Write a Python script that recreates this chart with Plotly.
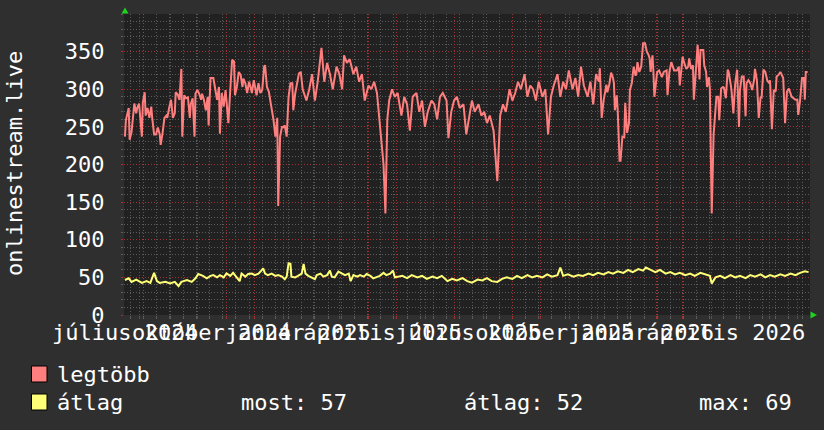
import plotly.graph_objects as go
import pandas as pd

# ---------------- data ----------------
START = "2024-07-15"
END = "2026-07-14 12:00"

# legtöbb (max) series: day offset from START, value
max_day = [1, 2, 5, 6, 8, 10, 11, 13, 14, 16, 17, 19, 20, 22, 23, 25, 27, 29, 30, 32, 34, 36, 38, 39, 41, 43, 45, 46,
           48, 50, 52, 54, 55, 57, 59, 61, 62, 64, 66, 68, 70, 71, 73, 75, 76, 78, 80, 82, 83, 85, 87, 89, 90, 92, 95,
           97, 99, 101, 102, 104, 106, 108, 109, 111, 113, 115, 117, 118, 120, 122, 124, 126, 127, 129, 131, 133, 134,
           136, 138, 140, 141, 143, 145, 147, 149, 150, 152, 154, 156, 157, 159, 161, 163, 164, 166, 168, 170, 171,
           173, 175, 177, 179, 180, 182, 184, 186, 188,
           190, 194, 197, 200, 203, 206, 210, 213, 216, 219, 222, 226, 229, 232, 234, 237, 240, 244, 247, 250, 253,
           256, 260, 263, 266, 269, 272, 276, 278, 280, 282, 285, 288, 291, 295, 298, 301, 304, 307, 311, 314, 317,
           320, 323, 327, 330, 333, 336, 339, 343, 345, 348, 351, 354, 357, 361, 364, 367, 370, 373, 377, 380, 383,
           386, 389, 393, 397, 400, 403, 406, 410, 413, 416, 419, 422, 426, 429, 432, 435, 438, 441, 445, 448, 451,
           454, 457, 461, 464, 467, 470, 473, 477, 480, 483, 486, 489, 493, 496, 499, 502, 505,
           506, 508, 510, 513, 514, 516, 518, 520, 521, 522, 524, 525, 527, 528, 530, 532, 533, 535, 537, 538, 540,
           542, 544, 545, 546, 548, 550, 551, 552, 554, 556, 558, 559, 560, 562, 563, 564, 566, 567, 569, 572, 574,
           577, 578, 580, 582, 584, 585, 588, 590, 591, 593, 594, 596, 598, 600, 601, 603, 605, 606, 608, 609, 610,
           612, 613, 615, 616, 617, 619, 620, 622, 623, 625, 627, 629, 630, 632, 633, 635, 637, 638, 640, 642, 643,
           645, 646, 648, 650, 652, 654, 655, 657, 659, 661, 662, 664, 666, 668, 670, 671, 673, 675, 677, 678, 680,
           682, 684, 686, 687, 689, 691, 693, 694, 696, 698, 700, 701, 703, 705, 707, 709, 710, 712, 714, 716, 717,
           719, 721, 723, 724, 725, 727]
max_val = [237, 259, 275, 233, 243, 277, 281, 268, 275, 281, 268, 237, 282, 296, 265, 275, 262, 277, 262, 240, 240, 249,
           240, 226, 242, 262, 265, 262, 275, 286, 262, 268, 296, 293, 286, 327, 237, 292, 288, 289, 262, 280, 288, 237,
           294, 299, 294, 286, 294, 286, 272, 290, 252, 315, 315, 297, 286, 303, 241, 295, 277, 299, 281, 255, 299, 339,
           337, 292, 303, 323, 319, 303, 314, 308, 295, 310, 306, 295, 312, 301, 292, 308, 295, 299, 330, 332, 303, 297,
           281, 277, 259, 237, 262, 145, 237, 250, 250, 252, 237, 290, 308, 308, 272, 294, 308, 321, 323,
           300, 285, 300, 320, 285, 310, 355, 310, 335, 320, 300, 330, 320, 300, 345, 335, 340, 320, 330, 310, 320,
           285, 305, 300, 310, 295, 255, 200, 135, 260, 285, 300, 290, 295, 265, 290, 280, 245, 290, 295, 270, 285,
           250, 270, 285, 280, 260, 290, 295, 285, 235, 270, 285, 290, 275, 280, 240, 265, 285, 270, 280, 265, 270,
           255, 265, 245, 178, 265, 280, 270, 300, 285, 295, 310, 300, 320, 290, 305, 300, 285, 310, 290, 300, 240,
           290, 305, 320, 290, 310, 300, 325, 300, 315, 290, 330, 305, 290, 310, 280, 320, 310,
           328, 262, 285, 306, 296, 306, 322, 315, 308, 272, 292, 272, 205, 205, 237, 236, 282, 242, 255, 299, 308,
           330, 318, 322, 336, 323, 330, 345, 361, 361, 350, 345, 341, 323, 345, 323, 290, 312, 323, 325, 316, 323,
           325, 292, 323, 336, 327, 325, 325, 330, 305, 332, 343, 334, 327, 330, 341, 327, 332, 286, 323, 330, 359,
           313, 352, 352, 352, 332, 323, 303, 316, 301, 135, 240, 279, 290, 290, 259, 301, 303, 302, 288, 326, 323,
           308, 299, 268, 308, 326, 250, 299, 317, 317, 264, 308, 312, 308, 299, 312, 327, 312, 262, 290, 288, 326,
           323, 312, 308, 312, 247, 299, 297, 317, 319, 323, 317, 315, 255, 297, 301, 292, 290, 288, 286, 286, 266,
           286, 315, 315, 286, 323, 323]

# átlag (average) series
avg_day = [1, 5, 8, 13, 19, 24, 28, 32, 35, 38, 44, 49, 54, 58, 61, 67, 72, 76, 79, 84, 88, 92, 95, 99, 102, 106,
           109, 113, 116, 120, 123, 125, 129, 132, 136, 139, 143, 146, 148, 150, 153, 157, 161, 164, 168, 171, 173,
           175, 177, 178, 182, 185, 189, 191, 193, 196, 200, 203, 205, 209, 212, 216, 219, 221, 224, 228, 232, 235,
           239, 241, 244, 248, 251, 255, 258, 262, 265, 269, 272, 276, 279, 283, 286, 288, 292,
           296, 301, 306, 312, 317, 322, 328, 333, 338, 344, 349, 354, 360, 365, 370, 376, 381, 386, 391, 397, 402,
           407, 413, 418, 423, 429, 434, 439, 445, 450, 455, 461, 464, 467, 472, 478, 483, 488, 494, 499, 504, 510,
           515, 520, 525, 531, 536, 541, 547, 552, 555, 560, 565, 570, 576, 581, 586, 591, 597, 602, 607, 613, 618,
           623, 625, 629, 634, 639, 645, 650, 655, 661, 666, 671, 677, 682, 687, 692, 698, 703, 709, 714, 719, 724,
           728]
avg_val = [46.5, 48.7, 44, 47, 42.6, 45, 42.6, 56, 45, 42.6, 44, 42, 44, 38.5, 44, 46.5, 44, 48.7, 54.5, 52, 48.7, 52,
           53, 50, 53, 50, 55.4, 52, 56, 50, 45, 55, 51, 54.5, 55, 53, 55, 59, 62, 55, 53, 55, 52, 53, 51, 47.6, 51,
           68.7, 68, 51, 50, 52, 55, 68, 55, 52, 50, 47.6, 53, 55, 51, 53, 59, 51, 50, 57.6, 55, 53, 55, 45, 53, 51,
           53, 51, 54.5, 52, 48.7, 51, 52, 56, 53, 55, 59, 50, 51,
           52, 49, 53, 50, 52, 48, 51, 49, 52, 45, 48, 46, 49, 45, 43, 47, 46, 49, 45, 44, 48,
           50, 48, 52, 49, 53, 50, 52, 50, 54, 51, 53, 63, 52, 54, 51, 53, 52, 55, 53, 56, 54,
           57, 55, 58, 56, 60, 57, 61, 59, 63, 60, 57, 60, 55, 57, 54, 56, 53, 55, 52, 56, 54,
           52, 42, 50, 52, 49, 53, 50, 52, 49, 53, 51, 54, 50, 53, 51, 54, 52, 55, 53, 56, 58,
           57]

series_names = ["legtöbb", "átlag"]
series_colors = ["#ff7f7f", "#ffff77"]

label_dates = ["2024-07-16", "2024-10-16", "2025-01-16", "2025-04-16",
               "2025-07-16", "2025-10-16", "2026-01-16", "2026-04-16"]
label_texts = ["július 2024", "október 2024", "január 2025", "április 2025",
               "július 2025", "október 2025", "január 2026", "április 2026"]
y_tick_vals = [0, 50, 100, 150, 200, 250, 300, 350]
y_title = "onlinestream.live"
stat_names = ["most", "átlag", "max"]
stat_values = [57, 52, 69]

# ---------------- layout constants ----------------
W, H = 824, 430
PL, PR, PT, PB = 124, 810, 14, 315
FONT = "DejaVu Sans Mono, monospace"
FS = 22
WHITE = "#ffffff"
BG = "#2f2f2f"
CANVAS = "#212121"
GRID = "#5c5c5c"
MGRID = "#a03232"
ARROW = "#1ed41e"
DASH = "1px,2px"


def px_x(px):
    return (px - PL) / (PR - PL)


def px_y(py):
    return (PB - py) / (PB - PT)


start = pd.Timestamp(START)
max_x = [start + pd.Timedelta(days=d) for d in max_day]
avg_x = [start + pd.Timedelta(days=d) for d in avg_day]

month_starts = pd.date_range("2024-08-01", "2026-07-01", freq="MS")
biweekly = pd.date_range("2024-07-22", "2026-07-14", freq="14D")

fig = go.Figure()
fig.add_trace(go.Scatter(x=max_x, y=max_val, mode="lines", name=series_names[0],
                         line=dict(color=series_colors[0], width=2), showlegend=False))
fig.add_trace(go.Scatter(x=avg_x, y=avg_val, mode="lines", name=series_names[1],
                         line=dict(color=series_colors[1], width=2), showlegend=False))
# carrier for the label axis (no visible marks)
fig.add_trace(go.Scatter(x=[START, END], y=[None, None], xaxis="x2", mode="lines",
                         showlegend=False, hoverinfo="skip"))

fig.update_layout(
    width=W, height=H,
    margin=dict(l=PL, r=W - PR, t=PT, b=H - PB),
    paper_bgcolor=BG, plot_bgcolor=CANVAS,
    font=dict(family=FONT, size=FS, color=WHITE),
    showlegend=False,
    xaxis=dict(
        type="date", range=[START, END],
        tickmode="array", tickvals=list(month_starts), showticklabels=False,
        showgrid=True, gridcolor=MGRID, griddash=DASH, gridwidth=1,
        ticks="outside", ticklen=3, tickcolor=MGRID,
        minor=dict(tickmode="array", tickvals=list(biweekly), showgrid=True, gridcolor=GRID,
                   griddash=DASH, ticks="outside", ticklen=3, tickcolor=GRID),
        showline=False, zeroline=False, fixedrange=True,
    ),
    xaxis2=dict(
        type="date", range=[START, END], overlaying="x", anchor="y", side="bottom",
        tickmode="array", tickvals=label_dates, ticktext=label_texts, tickangle=0,
        showgrid=False, ticks="", tickfont=dict(family=FONT, size=FS, color=WHITE),
        ticklabelstandoff=2, showline=False, zeroline=False,
    ),
    yaxis=dict(
        range=[0, 400], tickmode="array", tickvals=y_tick_vals,
        showgrid=True, gridcolor=MGRID, griddash=DASH,
        ticks="outside", ticklen=2, tickcolor=MGRID,
        minor=dict(dtick=10, showgrid=True, gridcolor=GRID, griddash=DASH,
                   ticks="outside", ticklen=2, tickcolor=GRID),
        tickfont=dict(family=FONT, size=FS, color=WHITE), ticklabelstandoff=12,
        zeroline=False, showline=False,
    ),
)

shapes = []
# arrows
shapes.append(dict(type="path", xref="paper", yref="paper",
                   path=f"M {px_x(121.5)},{px_y(13.5)} L {px_x(128.5)},{px_y(13.5)} L {px_x(125)},{px_y(7.5)} Z",
                   fillcolor=ARROW, line=dict(width=0)))
shapes.append(dict(type="path", xref="paper", yref="paper",
                   path=f"M {px_x(810.5)},{px_y(311.5)} L {px_x(810.5)},{px_y(318.5)} L {px_x(817)},{px_y(315)} Z",
                   fillcolor=ARROW, line=dict(width=0)))
# legend boxes
legend_rows = [374, 402]
for i, (name, col) in enumerate(zip(series_names, series_colors)):
    cy = legend_rows[i]
    shapes.append(dict(type="rect", xref="paper", yref="paper",
                       x0=px_x(31.5), x1=px_x(47), y0=px_y(cy + 8), y1=px_y(cy - 8),
                       fillcolor=col, line=dict(color="#000000", width=1)))
fig.update_layout(shapes=shapes)

ann = []
ann.append(dict(text=y_title, xref="paper", yref="paper", x=px_x(14), y=px_y(164),
                xanchor="center", yanchor="middle", textangle=-90, showarrow=False,
                font=dict(family=FONT, size=FS, color=WHITE)))
for i, name in enumerate(series_names):
    ann.append(dict(text=name, xref="paper", yref="paper", x=px_x(55), y=px_y(legend_rows[i]),
                    xanchor="left", yanchor="middle", showarrow=False,
                    font=dict(family=FONT, size=FS, color=WHITE)))
stat_x = [239, 462, 697]
for sx, sn, sv in zip(stat_x, stat_names, stat_values):
    ann.append(dict(text=f"{sn}: {sv}", xref="paper", yref="paper", x=px_x(sx), y=px_y(legend_rows[1]),
                    xanchor="left", yanchor="middle", showarrow=False,
                    font=dict(family=FONT, size=FS, color=WHITE)))
fig.update_layout(annotations=ann)

fig.write_html("out.html")
